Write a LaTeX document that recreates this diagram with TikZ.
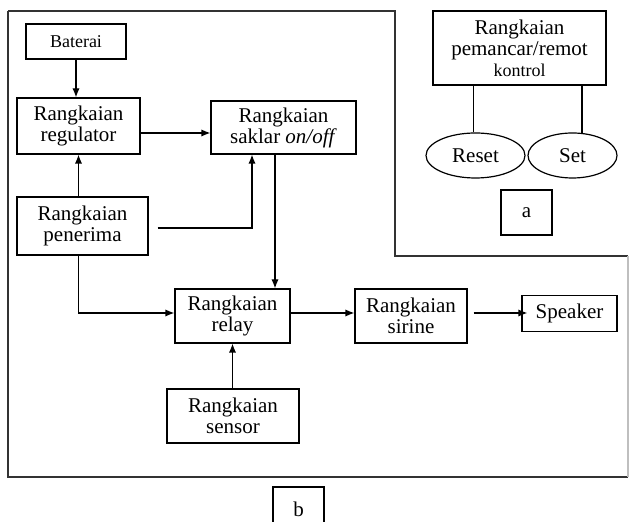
\documentclass[tikz,border=0pt]{standalone}
\usepackage{fontspec}
\setmainfont{Liberation Serif}
\usepackage{tikz}
\usetikzlibrary{arrows,arrows.meta,shapes}
\usetikzlibrary{positioning}
\usetikzlibrary{calc}
\tikzset{
	blok/.style={draw=black, rectangle, inner sep=0pt, align=center,
		font=\fontsize{10.5}{10.5}\selectfont},
	kecil/.style={font=\fontsize{9}{10}\selectfont},
	tombol/.style={draw=black, ellipse, inner sep=0pt,
		font=\fontsize{10.5}{10.5}\selectfont},
	panah/.style={draw=black, -{Latex[length=4.5pt,width=3.6pt]}},
	garis/.style={draw=black},
	bingkai/.style={draw=black!80, line width=0.7pt},
}

\begin{document}
\begin{tikzpicture}[x=0.5pt, y=-0.5pt, line width=0.6pt]
	\useasboundingbox (0,0) rectangle (630,522);
%
	% bingkai b
	\draw[bingkai] (8,11) -- (395,11) -- (395,256) -- (628,256);
	\draw[bingkai] (628,477) -- (8,477) -- (8,11);
	\draw[bingkai, draw=black!25] (628,256) -- (628,477);
%
	\node[blok, kecil, minimum width=50pt, minimum height=17.5pt] (bat) at (76,41.5) {Baterai};
	\node[blok, minimum width=61.5pt, minimum height=28pt] (reg) at (78.5,126) {Rangkaian\\regulator};
	\node[blok, minimum width=72.5pt, minimum height=26.5pt] (sak) at (283.5,127.5) {Rangkaian\\saklar \textit{on/off}};
	\node[blok, minimum width=65.5pt, minimum height=29pt] (pen) at (82.5,226) {Rangkaian\\penerima};
	\node[blok, minimum width=57.5pt, minimum height=27pt] (rel) at (232.5,316) {Rangkaian\\relay};
	\node[blok, minimum width=56pt, minimum height=27pt] (sir) at (411,316) {Rangkaian\\sirine};
	\node[blok, minimum width=47.5pt, minimum height=18pt] (spk) at (569.5,313.5) {Speaker};
	\node[blok, minimum width=66pt, minimum height=27pt] (sen) at (233,416) {Rangkaian\\sensor};
	\node[blok, minimum width=25.5pt, minimum height=22.5pt] (b) at (298.5,509.5) {b};
%
	% bagian a
	\node[blok, minimum width=86.5pt, minimum height=37pt] (pem) at (519.5,48)
		{Rangkaian\\pemancar/remot\\{\fontsize{9}{10}\selectfont kontrol}};
	\node[tombol, minimum width=49.5pt, minimum height=22.5pt] (reset) at (475.5,155.5) {Reset};
	\node[tombol, minimum width=44.5pt, minimum height=22.5pt] (set) at (572.5,155.5) {Set};
	\node[blok, minimum width=25.5pt, minimum height=22.5pt] (a) at (526.5,212.5) {a};
%
	\draw[panah] (bat.south) -- (bat.south |- reg.north);
	\draw[panah] ([yshift=-3.5pt]reg.east) -- ([yshift=-3.5pt]reg.east -| sak.west);
	\draw[panah] (reg.south |- pen.north) -- (reg.south);
	\draw[panah] ([xshift=4.5pt,yshift=-1pt]pen.east) -| ([xshift=-15.75pt]sak.south);
	\draw[panah] (reg.south |- pen.south) |- ([yshift=1.5pt]rel.west);
	\draw[panah] ([xshift=-4.25pt]sak.south) -- ([xshift=-4.25pt]sak.south |- rel.north);
	\draw[panah] ([yshift=1.5pt]rel.east) -- ([yshift=1.5pt]rel.east -| sir.west);
	\draw[panah] ([xshift=3pt,yshift=1.5pt]sir.east) -- ([xshift=3pt,yshift=1.5pt]sir.east -| spk.west);
	\draw[panah] (sen.north -| rel.south) -- (rel.south);
%
	\draw[garis] (reset.94 |- pem.south) -- (reset.94);
	\draw[garis] (set.67 |- pem.south) -- (set.67);
\end{tikzpicture}
\end{document}
